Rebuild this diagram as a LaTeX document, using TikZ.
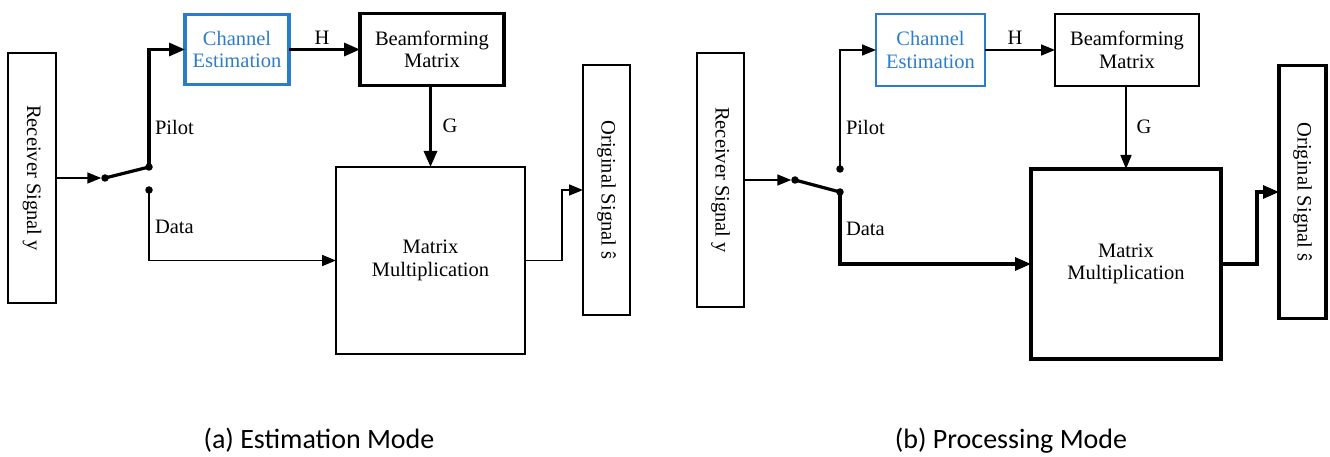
\documentclass[tikz,border=0pt]{standalone}
\usepackage{fontspec}
\setmainfont{Liberation Serif}
\newfontfamily\capfont{Carlito}
\usetikzlibrary{arrows.meta,calc}
\definecolor{ceblue}{RGB}{44,124,202}
\begin{document}
\begin{tikzpicture}[x=1pt,y=-1pt,
  every node/.style={inner sep=0pt,outer sep=0pt},
  lbl/.style={font=\rmfamily\fontsize{20.5}{22.5}\selectfont, align=center},
  thinbox/.style={draw, line width=1.7pt, lbl},
  thickbox/.style={draw, line width=3.4pt, lbl},
  bluethin/.style={draw=ceblue, line width=1.7pt, lbl, text=ceblue},
  bluethick/.style={draw=ceblue, line width=3.4pt, lbl, text=ceblue},
  dot/.style={circle, fill, minimum size=7.5pt},
  thinline/.style={line width=1.6pt},
  thickline/.style={line width=3.2pt},
  thinarr/.style={thinline, -{Triangle[length=14pt,width=11pt]}},
  thickarr/.style={thickline, -{Triangle[length=16pt,width=13pt]}},
  caption/.style={font=\capfont\fontsize{28}{32}\selectfont, anchor=base}
]
\useasboundingbox (0,0) rectangle (1330,457);

% ---------------- Panel (a) ----------------
\node[thinbox, minimum width=48, minimum height=250] (rxA) at (32,178) {};
\node[lbl, rotate=-90] (rxAt) at (rxA.center) {Receiver Signal y};
\node[dot] (pivA) at (105,178) {};
\node[dot] (pilA) at (149,167) {};
\node[dot] (datA) at (149,190) {};
\node[bluethick, minimum width=104, minimum height=70] (ceA) at (237,49.5) {Channel\\Estimation};
\node[thickbox, minimum width=144, minimum height=72] (bfA) at (432,49.5) {Beamforming\\Matrix};
\node[thinbox, minimum width=189, minimum height=187] (mmA) at (430.5,260.5) {Matrix\\Multiplication};
\node[thinbox, minimum width=47, minimum height=250] (osA) at (606.5,190) {};
\node[lbl, rotate=-90] (osAt) at (osA.center) {Original Signal ŝ};
\coordinate (kA) at (562,260.5);

\draw[thinarr] (rxA.east) -- (pivA);
\draw[thickline] (pivA.center) -- (pilA.center);
\draw[thickarr] (pilA.center) |- (ceA.west);
\draw[thickarr] (ceA.east) -- (bfA.west);
\draw[thickarr] (bfA.south -| mmA.north) -- (mmA.north);
\draw[thinarr] (datA.center) |- (mmA.west);
\draw[thinarr] (mmA.east) -- (kA) |- (osA.west);

\node[lbl, anchor=west] (pilotA) at (155,127) {Pilot};
\node[lbl, anchor=west] (dataA) at (155,227) {Data};
\node[lbl] (hA) at (322,38) {H};
\node[lbl] (gA) at (450,126) {G};
\node[caption] (capA) at (319,448) {(a) Estimation Mode};

% ---------------- Panel (b) ----------------
\node[thinbox, minimum width=47, minimum height=254] (rxB) at (720.5,180) {};
\node[lbl, rotate=-90] (rxBt) at (rxB.center) {Receiver Signal y};
\node[dot] (pivB) at (795,180) {};
\node[dot] (pilB) at (840,169) {};
\node[dot] (datB) at (840,192) {};
\node[bluethin, minimum width=109, minimum height=72] (ceB) at (930.5,50) {Channel\\Estimation};
\node[thinbox, minimum width=144, minimum height=72] (bfB) at (1127,50) {Beamforming\\Matrix};
\node[thickbox, minimum width=190, minimum height=190] (mmB) at (1126,264) {Matrix\\Multiplication};
\node[thickbox, minimum width=47, minimum height=253] (osB) at (1302.5,192) {};
\node[lbl, rotate=-90] (osBt) at (osB.center) {Original Signal ŝ};
\coordinate (kB) at (1257,264);

\draw[thinarr] (rxB.east) -- (pivB);
\draw[thickline] (pivB.center) -- (datB.center);
\draw[thinarr] (pilB.center) |- (ceB.west);
\draw[thinarr] (ceB.east) -- (bfB.west);
\draw[thinarr] (bfB.south -| mmB.north) -- (mmB.north);
\draw[thickarr] (datB.center) |- (mmB.west);
\draw[thickarr] (mmB.east) -- (kB) |- (osB.west);

\node[lbl, anchor=west] (pilotB) at (846,127) {Pilot};
\node[lbl, anchor=west] (dataB) at (846,229) {Data};
\node[lbl] (hB) at (1015,38) {H};
\node[lbl] (gB) at (1144,127) {G};
\node[caption] (capB) at (1011,448) {(b) Processing Mode};
\end{tikzpicture}
\end{document}
